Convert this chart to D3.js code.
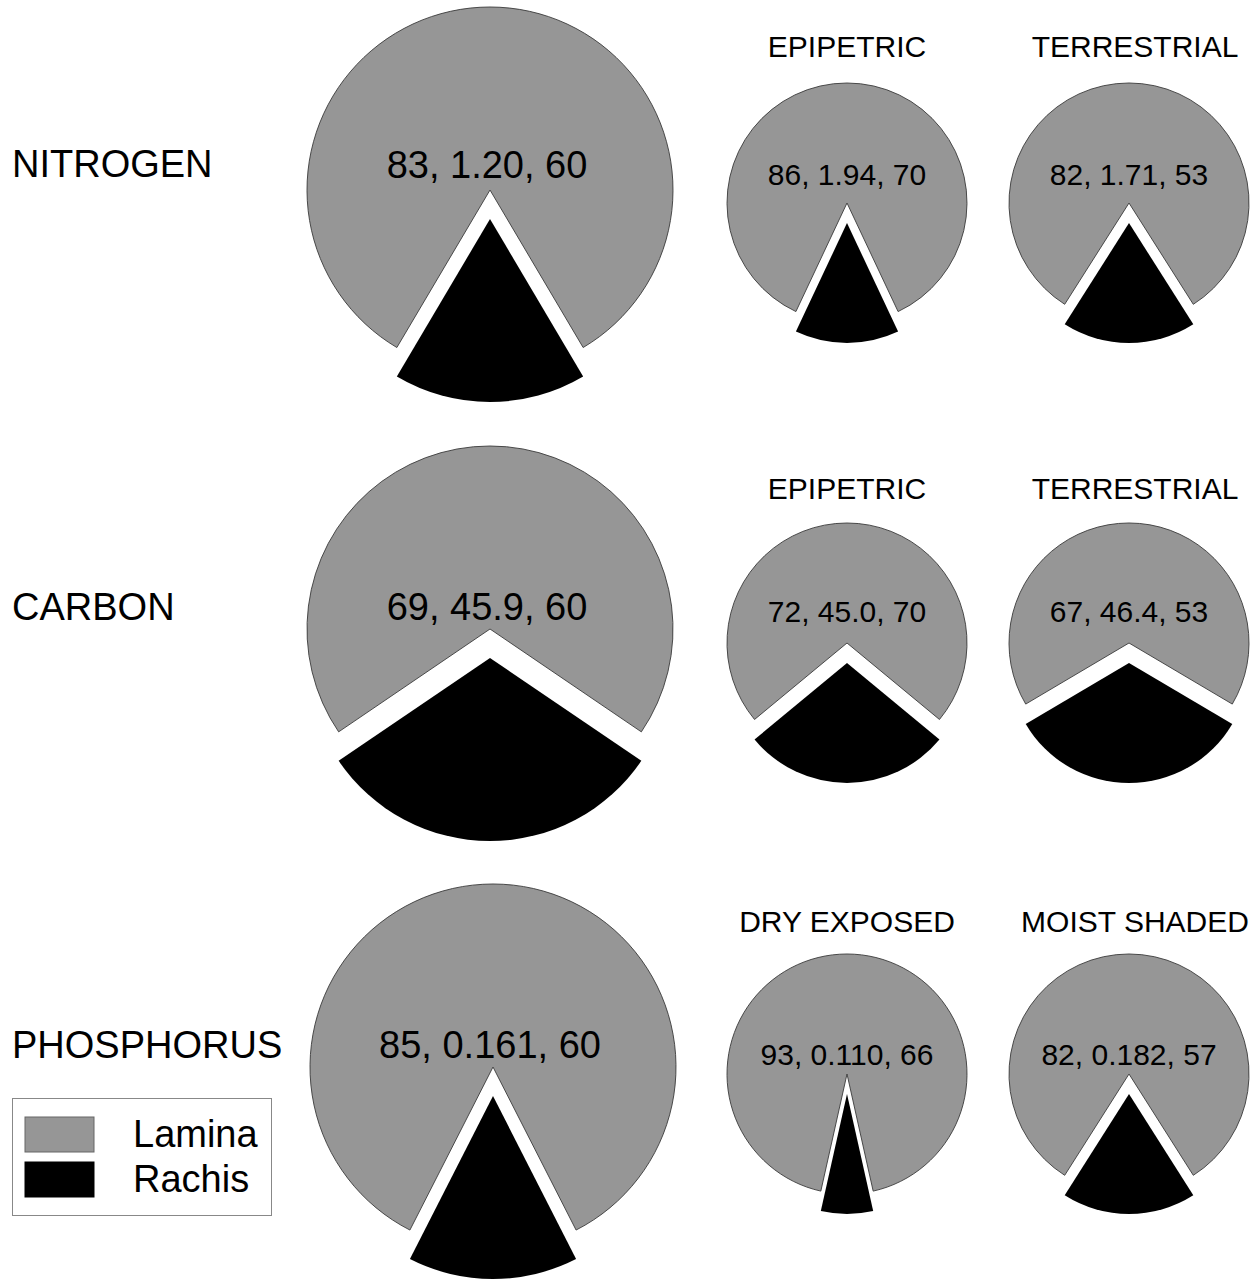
<!DOCTYPE html>
<html>
<head>
<meta charset="utf-8">
<script src="https://cdn.jsdelivr.net/npm/d3@7"></script>
<style>
  html, body { margin: 0; padding: 0; background: #ffffff; }
  svg { display: block; font-family: "Liberation Sans", Arial, sans-serif; }
</style>
</head>
<body>
<svg id="chart" width="1259" height="1279"></svg>
<script>
// ---- data ----
const elements = ["NITROGEN", "CARBON", "PHOSPHORUS"];
const groupTitles = [
  ["", "EPIPETRIC", "TERRESTRIAL"],
  ["", "EPIPETRIC", "TERRESTRIAL"],
  ["", "DRY EXPOSED", "MOIST SHADED"]
];
const laminaPct = [
  [83, 86, 82],
  [69, 72, 67],
  [85, 93, 82]
];
const concentration = [
  ["1.20", "1.94", "1.71"],
  ["45.9", "45.0", "46.4"],
  ["0.161", "0.110", "0.182"]
];
const sampleN = [
  [60, 70, 53],
  [60, 70, 53],
  [60, 66, 57]
];
const parts = ["Lamina", "Rachis"];

// ---- layout ----
const svg = d3.select("#chart");
const colour = d3.scaleOrdinal().domain(parts).range(["#969696", "#000000"]);

const bigCX = [490, 490, 493];
const colX = [0, 847, 1129];
const bigCY = [190, 629, 1067];
const smallCY = [203, 643, 1074];
const rowLabelBase = [177, 620, 1058];
const bigTextBase = [178, 620, 1058];
const smallTextBase = [185, 622, 1065];
const titleBase = [57, 499, 932];
const titleX = [0, 847, 1135];

const radius = d3.scaleOrdinal().domain(["big", "small"]).range([183, 120]);
const explode = d3.scaleOrdinal().domain(["big", "small"]).range([29, 20]);

function drawPie(g, lam, kind) {
  const r = radius(kind);
  const rach = 100 - lam;
  const half = (rach / 100) * Math.PI; // half of rachis angle
  const pie = d3.pie().sort(null).value(d => d.v)
    .startAngle(Math.PI + half).endAngle(Math.PI + half + 2 * Math.PI);
  const arcs = pie([{k: "Lamina", v: lam}, {k: "Rachis", v: rach}]);
  const arc = d3.arc().innerRadius(0).outerRadius(r);
  g.selectAll("path.slice").data(arcs).join("path")
    .attr("class", "slice")
    .attr("d", arc)
    .attr("fill", d => colour(d.data.k))
    .attr("stroke", d => d.data.k === "Lamina" ? "#3a3a3a" : "none")
    .attr("stroke-width", 0.9)
    .attr("transform", d => {
      if (d.data.k !== "Rachis") return null;
      const mid = (d.startAngle + d.endAngle) / 2;
      const off = explode(kind);
      return `translate(${off * Math.sin(mid)},${-off * Math.cos(mid)})`;
    });
}

elements.forEach((el, i) => {
  svg.append("text")
    .attr("x", 12).attr("y", rowLabelBase[i])
    .attr("font-size", 38).attr("fill", "#000")
    .text(el);

  for (let j = 0; j < 3; j++) {
    const kind = j === 0 ? "big" : "small";
    const cx = j === 0 ? bigCX[i] : colX[j];
    const cy = j === 0 ? bigCY[i] : smallCY[i];
    const g = svg.append("g").attr("transform", `translate(${cx},${cy})`);
    drawPie(g, laminaPct[i][j], kind);
    svg.append("text")
      .attr("x", cx - (j === 0 ? 3 : 0))
      .attr("y", j === 0 ? bigTextBase[i] : smallTextBase[i])
      .attr("text-anchor", "middle")
      .attr("font-size", j === 0 ? 38 : 30)
      .attr("fill", "#000")
      .text(`${laminaPct[i][j]}, ${concentration[i][j]}, ${sampleN[i][j]}`);
    if (groupTitles[i][j]) {
      svg.append("text")
        .attr("x", titleX[j]).attr("y", titleBase[i])
        .attr("text-anchor", "middle")
        .attr("font-size", 30).attr("fill", "#000")
        .text(groupTitles[i][j]);
    }
  }
});

// ---- legend ----
const lg = svg.append("g");
lg.append("rect").attr("x", 12.5).attr("y", 1098.5).attr("width", 259).attr("height", 117)
  .attr("fill", "#fff").attr("stroke", "#888").attr("stroke-width", 1);
parts.forEach((p, k) => {
  lg.append("rect")
    .attr("x", 25).attr("y", 1117 + k * 45).attr("width", 69).attr("height", 35)
    .attr("fill", colour(p)).attr("stroke", p === "Lamina" ? "#666" : "#000").attr("stroke-width", 1);
  lg.append("text")
    .attr("x", 133).attr("y", 1147 + k * 45)
    .attr("font-size", 38).attr("fill", "#000")
    .text(p);
});
</script>
</body>
</html>
